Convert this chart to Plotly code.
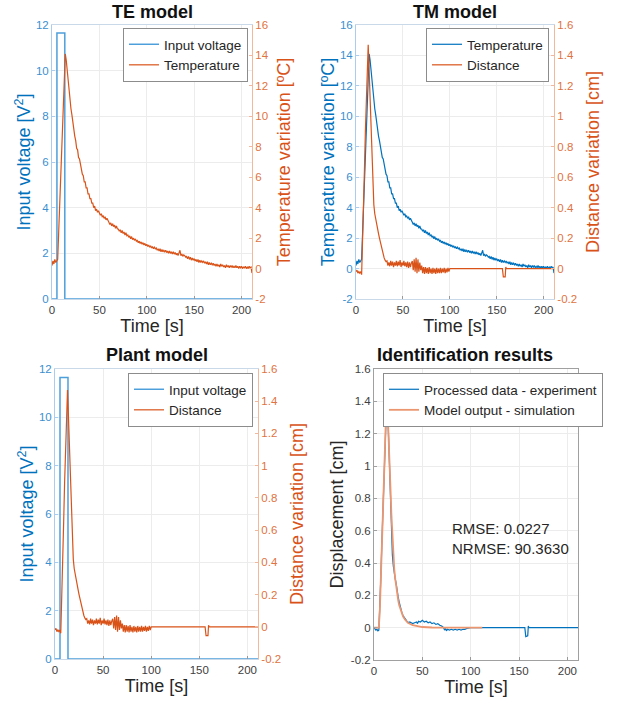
import plotly.graph_objects as go

# ---------------- data ----------------
pulse_t = [0, 5.2, 5.2, 13.5, 13.5, 211]
pulse_v = [0, 0, 11.65, 11.65, 0, 0]

temp_t = list(range(0, 212))
temp_v = [
    0.2, 0.5, 0.3, 0.6, 0.4, 0.5, 0.6, 2.3, 4.0, 5.8,
    7.6, 9.4, 11.2, 12.9, 14.1, 13.7, 13.0, 12.3, 11.6, 11.0,
    10.5, 10.1, 9.5, 9.2, 8.7, 8.4, 7.9, 7.8, 7.3, 7.2,
    6.8, 6.6, 6.2, 6.1, 5.7, 5.7, 5.3, 5.3, 4.9, 4.9,
    4.6, 4.6, 4.3, 4.3, 4.0, 4.1, 3.8, 3.9, 3.7, 3.8,
    3.65, 3.5, 3.6, 3.4, 3.45, 3.3, 3.4, 3.2, 3.3, 3.1,
    3.05, 2.9, 3.0, 2.8, 2.95, 2.75, 2.85, 2.65, 2.8, 2.6,
    2.6, 2.45, 2.55, 2.35, 2.5, 2.3, 2.4, 2.2, 2.35, 2.15,
    2.2, 2.05, 2.15, 1.95, 2.1, 1.9, 2.0, 1.85, 1.95, 1.8,
    1.85, 1.7, 1.8, 1.65, 1.75, 1.6, 1.7, 1.55, 1.65, 1.5,
    1.6, 1.45, 1.55, 1.4, 1.5, 1.35, 1.45, 1.3, 1.4, 1.3,
    1.35, 1.2, 1.3, 1.15, 1.3, 1.1, 1.25, 1.1, 1.2, 1.1,
    1.2, 1.05, 1.15, 1.0, 1.15, 1.0, 1.1, 0.95, 1.1, 0.95,
    1.05, 0.9, 1.0, 0.85, 1.0, 1.2, 0.85, 0.95, 0.8, 0.9,
    0.85, 0.75, 0.8, 0.65, 0.8, 0.6, 0.75, 0.55, 0.7, 0.55,
    0.65, 0.5, 0.6, 0.45, 0.6, 0.4, 0.55, 0.4, 0.5, 0.4,
    0.5, 0.35, 0.45, 0.3, 0.45, 0.25, 0.4, 0.25, 0.35, 0.25,
    0.35, 0.2, 0.3, 0.15, 0.3, 0.15, 0.25, 0.1, 0.3, 0.15,
    0.25, 0.1, 0.2, 0.05, 0.25, 0.1, 0.2, 0.05, 0.2, 0.1,
    0.2, 0.05, 0.15, 0.05, 0.2, 0.05, 0.15, 0.0, 0.15, 0.05,
    0.15, 0.0, 0.1, 0.05, 0.15, 0.0, 0.1, 0.0, 0.15, 0.05,
    0.1, -0.3,
]

dist_t = list(range(0, 101)) + [156, 157, 159, 159.6, 160.2, 211]
dist_v = [
    -0.02, -0.01, -0.03, -0.02, -0.03, -0.02, -0.04, 0.15, 0.4, 0.65,
    0.9, 1.12, 1.32, 1.47, 1.3, 1.1, 0.9, 0.72, 0.55, 0.42,
    0.36, 0.32, 0.29, 0.26, 0.23, 0.2, 0.17, 0.14, 0.12, 0.09,
    0.07, 0.055, 0.045, 0.05, 0.02, 0.04, 0.015, 0.05, 0.02, 0.045,
    0.01, 0.04, 0.02, 0.05, 0.015, 0.045, 0.02, 0.055, 0.01, 0.04,
    0.02, 0.05, 0.015, 0.04, 0.01, 0.045, 0.005, 0.04, 0.01, 0.035,
    0.05, -0.01, 0.06, -0.02, 0.07, -0.03, 0.06, -0.02, 0.04, -0.01,
    0.02, -0.03, 0.01, -0.035, 0.01, -0.03, 0.005, -0.035, 0.01, -0.03,
    0.0, -0.035, 0.005, -0.03, 0.0, -0.035, 0.005, -0.03, 0.0, -0.03,
    0.005, -0.03, 0.0, -0.025, 0.005, -0.03, 0.0, -0.025, 0.005, -0.02,
    0.0,
    0.0, -0.055, -0.055, 0.01, 0.0, 0.0,
]

proc_t = [0, 1, 2, 3, 4, 5, 6, 7, 8, 9, 10, 11, 12, 13, 13.5, 14, 15, 16, 17, 17.5,
          18, 19, 20, 21, 22, 23, 24, 25, 26, 27, 28, 29, 30, 31, 32, 33, 34, 35, 36, 37, 38,
          40, 42, 44, 45, 46, 48, 50, 52, 54, 56, 58, 60, 62, 64, 66, 68, 70, 72,
          73, 74, 75, 76, 78, 80, 82, 84, 86, 88, 90, 92, 94, 96, 98, 100,
          156, 157, 159, 159.6, 160.2, 211]
proc_v = [0, -0.01, -0.015, -0.01, -0.02, -0.015, 0.12, 0.3, 0.5, 0.7, 0.9, 1.1, 1.28, 1.45, 1.47,
          1.38, 1.2, 1.0, 0.78, 0.74,
          0.6, 0.45, 0.38, 0.33, 0.3, 0.27, 0.22, 0.19, 0.16, 0.13, 0.11, 0.09, 0.075, 0.065, 0.055,
          0.045, 0.04, 0.035, 0.03, 0.035, 0.03,
          0.025, 0.03, 0.035, 0.025, 0.04, 0.035, 0.045, 0.035, 0.04, 0.03, 0.035, 0.025, 0.03, 0.02,
          0.025, 0.015, 0.01, 0.0,
          -0.015, -0.005, -0.02, -0.01, -0.015, -0.01, -0.015, -0.01, -0.015, -0.01, -0.015, -0.01,
          -0.01, -0.005, 0.0, 0.0,
          0.0, -0.055, -0.05, 0.01, 0.0, 0.0]

model_t = [0, 5, 6, 7, 8, 9, 10, 11, 12, 13, 13.5, 14, 15, 16, 17, 18, 19, 20, 21, 22, 23, 24,
           25, 26, 27, 28, 30, 32, 35, 40, 45, 50, 60, 80, 112]
model_v = [0, 0, 0.1, 0.3, 0.5, 0.7, 0.9, 1.08, 1.24, 1.34, 1.37, 1.35, 1.22, 1.05, 0.87, 0.7,
           0.55, 0.44, 0.36, 0.3, 0.25, 0.21, 0.17, 0.14, 0.12, 0.1, 0.07, 0.05, 0.03, 0.015,
           0.008, 0.004, 0.001, 0, 0]

x_ticks = [0, 50, 100, 150, 200]
volt_ticks = [0, 2, 4, 6, 8, 10, 12]
temp_ticks = [-2, 0, 2, 4, 6, 8, 10, 12, 14, 16]
temp_ticklabels = ["-2", "0", "2", "4", "6", "8", "10", "12", "14", "16"]
dist_ticks = [-0.2, 0, 0.2, 0.4, 0.6, 0.8, 1.0, 1.2, 1.4, 1.6]
dist_ticklabels = ["-0.2", "0", "0.2", "0.4", "0.6", "0.8", "1", "1.2", "1.4", "1.6"]

rmse_text = "RMSE: 0.0227<br>NRMSE: 90.3630"

# ---------------- styling ----------------
W, H = 619, 709
FONT = "Liberation Sans, Arial, Helvetica, sans-serif"
BLUE = "#0072BD"
ORANGE = "#D95319"
BLUE_TICK = "#3b8fd0"
ORANGE_TICK = "#e0733f"
BLUE_LINE = "#a9cdee"
ORANGE_LINE = "#f3b79c"
GRID = "#ececec"


def dom_x(a, b):
    return [a / W, b / W]


def dom_y(top, bottom):
    return [1 - bottom / H, 1 - top / H]


def xaxis(domain, anchor, linecolor):
    return dict(domain=domain, anchor=anchor, range=[0, 211], tickvals=x_ticks,
                automargin=False,
                ticks="inside", ticklen=3, tickcolor="#999999",
                showgrid=True, gridcolor=GRID, gridwidth=1, zeroline=False,
                showline=True, linecolor=linecolor, mirror=True,
                tickfont=dict(family=FONT, size=11.5, color="#404040"),
                title=dict(text="Time [s]", font=dict(family=FONT, size=18, color="#262626"),
                           standoff=3))


def yaxis(domain, anchor, rng, tickvals, ticktext, title, tcolor, lcolor, ticol,
          side="left", overlaying=None, grid=True, standoff=0):
    d = dict(domain=domain, anchor=anchor, range=rng, tickvals=tickvals, ticktext=ticktext,
             automargin=False,
             side=side, ticks="inside", ticklen=3, tickcolor=lcolor,
             showgrid=grid, gridcolor=GRID, zeroline=False,
             showline=True, linecolor=lcolor,
             tickfont=dict(family=FONT, size=11.5, color=ticol),
             title=dict(text=title, font=dict(family=FONT, size=18, color=tcolor),
                        standoff=standoff))
    if overlaying:
        d["overlaying"] = overlaying
    return d


P1x, P1y = dom_x(52, 252), dom_y(25, 299)
P2x, P2y = dom_x(356, 554), dom_y(25, 299)
P3x, P3y = dom_x(55, 258), dom_y(369, 659)
P4x, P4y = dom_x(374, 578), dom_y(369, 660)

fig = go.Figure()

# TE model
fig.add_trace(go.Scatter(x=pulse_t, y=pulse_v, name="Input voltage", mode="lines",
                         line=dict(color="#4d9fdc", width=1.5), xaxis="x", yaxis="y",
                         legend="legend"))
fig.add_trace(go.Scatter(x=temp_t, y=temp_v, name="Temperature", mode="lines",
                         line=dict(color=ORANGE, width=1.2), xaxis="x", yaxis="y2",
                         legend="legend"))
# TM model
fig.add_trace(go.Scatter(x=temp_t, y=temp_v, name="Temperature", mode="lines",
                         line=dict(color=BLUE, width=1.2), xaxis="x2", yaxis="y3",
                         legend="legend2"))
fig.add_trace(go.Scatter(x=dist_t, y=dist_v, name="Distance", mode="lines",
                         line=dict(color=ORANGE, width=1.2), xaxis="x2", yaxis="y4",
                         legend="legend2"))
# Plant model
fig.add_trace(go.Scatter(x=pulse_t, y=pulse_v, name="Input voltage", mode="lines",
                         line=dict(color="#4d9fdc", width=1.5), xaxis="x3", yaxis="y5",
                         legend="legend3"))
fig.add_trace(go.Scatter(x=dist_t, y=dist_v, name="Distance", mode="lines",
                         line=dict(color=ORANGE, width=1.2), xaxis="x3", yaxis="y6",
                         legend="legend3"))
# Identification results
fig.add_trace(go.Scatter(x=proc_t, y=proc_v, name="Processed data - experiment", mode="lines",
                         line=dict(color=BLUE, width=1.2), xaxis="x4", yaxis="y7",
                         legend="legend4"))
fig.add_trace(go.Scatter(x=model_t, y=model_v, name="Model output - simulation", mode="lines",
                         line=dict(color="#EC9670", width=1.8), xaxis="x4", yaxis="y7",
                         legend="legend4"))

XL = "#c9d9ea"


def legend(right_px, top_px):
    return dict(x=right_px / W, xanchor="right", y=1 - top_px / H, yanchor="top",
                bgcolor="white", bordercolor="#8c8c8c", borderwidth=1,
                font=dict(family=FONT, size=13.5, color="#262626"),
                tracegroupgap=0, itemwidth=30)


fig.update_layout(
    width=W, height=H, margin=dict(l=0, r=0, t=0, b=0, pad=0),
    paper_bgcolor="white", plot_bgcolor="white",
    font=dict(family=FONT),
    showlegend=True,
    xaxis=xaxis(P1x, "y", XL),
    yaxis=yaxis(P1y, "x", [0, 12], volt_ticks, [str(v) for v in volt_ticks],
                "Input voltage [V<sup>2</sup>]", BLUE, BLUE_LINE, BLUE_TICK),
    yaxis2=yaxis(P1y, "x", [-2, 16], temp_ticks, temp_ticklabels,
                 "Temperature variation [ºC]", ORANGE, ORANGE_LINE, ORANGE_TICK,
                 side="right", overlaying="y", grid=False, standoff=9),
    xaxis2=xaxis(P2x, "y3", XL),
    yaxis3=yaxis(P2y, "x2", [-2, 16], temp_ticks, temp_ticklabels,
                 "Temperature variation [ºC]", BLUE, BLUE_LINE, BLUE_TICK),
    yaxis4=yaxis(P2y, "x2", [-0.2, 1.6], dist_ticks, dist_ticklabels,
                 "Distance variation [cm]", ORANGE, ORANGE_LINE, ORANGE_TICK,
                 side="right", overlaying="y3", grid=False, standoff=10),
    xaxis3=xaxis(P3x, "y5", XL),
    yaxis5=yaxis(P3y, "x3", [0, 12], volt_ticks, [str(v) for v in volt_ticks],
                 "Input voltage [V<sup>2</sup>]", BLUE, BLUE_LINE, BLUE_TICK),
    yaxis6=yaxis(P3y, "x3", [-0.2, 1.6], dist_ticks, dist_ticklabels,
                 "Distance variation [cm]", ORANGE, ORANGE_LINE, ORANGE_TICK,
                 side="right", overlaying="y5", grid=False, standoff=10),
    xaxis4=xaxis(P4x, "y7", "#a0a0a0"),
    yaxis7=yaxis(P4y, "x4", [-0.2, 1.6], dist_ticks, dist_ticklabels,
                 "Displacement [cm]", "#262626", "#a0a0a0", "#404040", standoff=2),
    legend=legend(248, 28),
    legend2=legend(549, 28),
    legend3=legend(253, 373),
    legend4=legend(603, 373),
)
fig.layout.yaxis7.mirror = True

titles = [("TE model", 152, 12), ("TM model", 455, 12),
          ("Plant model", 157, 355), ("Identification results", 465, 355)]
for txt, cx, cy in titles:
    fig.add_annotation(text="<b>%s</b>" % txt, x=cx / W, y=1 - cy / H, xref="paper",
                       yref="paper", xanchor="center", yanchor="middle", showarrow=False,
                       font=dict(family=FONT, size=18, color="#111111"))

fig.add_annotation(text=rmse_text, x=79, y=0.55, xref="x4", yref="y7", xanchor="left",
                   yanchor="middle", align="left", showarrow=False,
                   font=dict(family=FONT, size=15, color="#262626"))

fig.write_html("out.html", config={"displayModeBar": False},
               post_script="document.body.style.margin='0';document.body.style.overflow='hidden';")
